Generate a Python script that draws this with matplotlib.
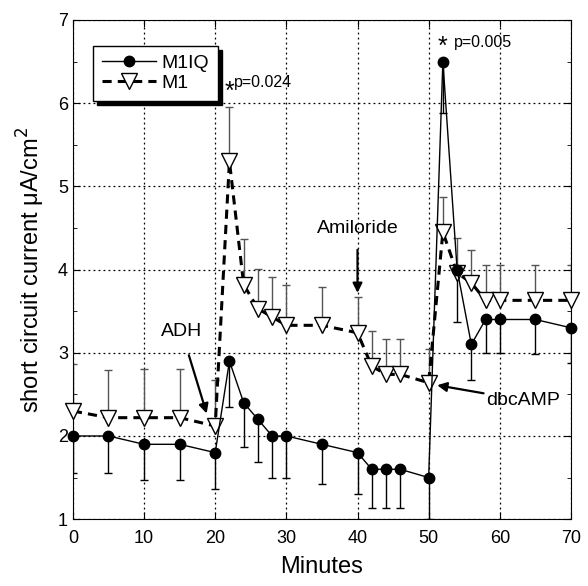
import matplotlib
matplotlib.use('Agg')
import matplotlib.pyplot as plt
import numpy as np

plt.rcParams['font.family'] = ['Liberation Sans', 'DejaVu Sans']

# M1IQ (filled circles, error bars drawn downward)
m1iq_x = [0, 5, 10, 15, 20, 22, 24, 26, 28, 30, 35, 40, 42, 44, 46, 50, 52, 54, 56, 58, 60, 65, 70]
m1iq_y = [2.0, 2.0, 1.9, 1.9, 1.8, 2.9, 2.4, 2.2, 2.0, 2.0, 1.9, 1.8, 1.6, 1.6, 1.6, 1.5, 6.5, 4.0, 3.1, 3.4, 3.4, 3.4, 3.3]
m1iq_err = [0.45, 0.45, 0.43, 0.43, 0.44, 0.55, 0.53, 0.51, 0.51, 0.51, 0.48, 0.5, 0.46, 0.46, 0.47, 0.5, 0.62, 0.63, 0.43, 0.4, 0.4, 0.42, 0.42]

# M1 (open triangles, error bars drawn upward)
m1_x = [0, 5, 10, 15, 20, 22, 24, 26, 28, 30, 35, 40, 42, 44, 46, 50, 52, 54, 56, 58, 60, 65, 70]
m1_y = [2.3, 2.22, 2.22, 2.22, 2.12, 5.3, 3.82, 3.53, 3.43, 3.33, 3.33, 3.24, 2.84, 2.74, 2.74, 2.64, 4.45, 3.96, 3.84, 3.63, 3.63, 3.63, 3.63]
m1_err = [0.57, 0.57, 0.58, 0.58, 0.55, 0.65, 0.55, 0.48, 0.48, 0.48, 0.46, 0.43, 0.42, 0.42, 0.42, 0.4, 0.42, 0.42, 0.4, 0.43, 0.43, 0.42, 0.43]

fig = plt.figure(figsize=(5.88, 5.86), dpi=100)
ax = fig.add_axes([0.124, 0.114, 0.847, 0.852])

zeros = np.zeros(len(m1_x))
ax.errorbar(m1_x, m1_y, yerr=[zeros, m1_err], fmt='none', ecolor='#555555',
            elinewidth=1.0, capsize=3, capthick=1.0, zorder=2)
ax.errorbar(m1iq_x, m1iq_y, yerr=[m1iq_err, zeros], fmt='none', ecolor='black',
            elinewidth=1.0, capsize=3, capthick=1.0, zorder=2)

ax.plot(m1iq_x, m1iq_y, '-', color='black', lw=1.0, marker='o', ms=7.5,
        mfc='black', mec='black', label='M1IQ', zorder=4, clip_on=False)
ax.plot(m1_x, m1_y, color='black', lw=2.2, ls=(0, (3, 2)), marker='v', ms=11,
        mfc='white', mec='black', mew=1.0, label='M1', zorder=3, clip_on=False)

ax.set_xlim(0, 70)
ax.set_ylim(1, 7)
ax.set_xticks(np.arange(0, 71, 10))
ax.set_yticks(np.arange(1, 8, 1))
ax.set_yticks(np.arange(1.5, 7, 1), minor=True)
ax.tick_params(direction='in', top=True, right=True, labelsize=13, length=5)
ax.tick_params(axis='x', pad=8)
ax.tick_params(which='minor', direction='in', left=True, right=True, length=3)
ax.grid(True, which='major', color='black', ls=(0, (1.5, 2.5)), lw=0.9)
ax.set_axisbelow(True)

ax.set_xlabel('Minutes', fontsize=17, labelpad=6)
ax.set_ylabel('short circuit current μA/cm$^2$', fontsize=17, labelpad=8)

leg = ax.legend(loc='upper left', bbox_to_anchor=(0.04, 0.948), fontsize=14,
                frameon=True, fancybox=False, edgecolor='black', framealpha=1,
                shadow={'color': 'black', 'alpha': 1, 'ox': 3, 'oy': -3},
                handlelength=2.8, borderpad=0.45, labelspacing=0.1,
                handletextpad=0.3, borderaxespad=0)
leg.get_frame().set_linewidth(1.0)

# significance marks
ax.text(22.0, 6.13, '*', fontsize=18, ha='center', va='center')
ax.text(22.7, 6.25, 'p=0.024', fontsize=11.5, ha='left', va='center')
ax.text(52.0, 6.68, '*', fontsize=18, ha='center', va='center')
ax.text(53.5, 6.73, 'p=0.005', fontsize=11.5, ha='left', va='center')

# treatment arrows
arrow = dict(arrowstyle='-|>', color='black', lw=1.6, mutation_scale=14)
ax.annotate('ADH', xy=(18.8, 2.27), xytext=(15.3, 3.25), fontsize=14,
            ha='center', va='center', arrowprops=dict(arrow, shrinkA=9, shrinkB=0))
ax.annotate('Amiloride', xy=(40, 3.72), xytext=(40, 4.49), fontsize=14,
            ha='center', va='center', arrowprops=dict(arrow, shrinkA=7, shrinkB=0))
ax.annotate('dbcAMP', xy=(51.2, 2.61), xytext=(63.3, 2.43), fontsize=14,
            ha='center', va='center', arrowprops=dict(arrow, shrinkA=34, shrinkB=0))

fig.savefig('out.png', dpi=100)
